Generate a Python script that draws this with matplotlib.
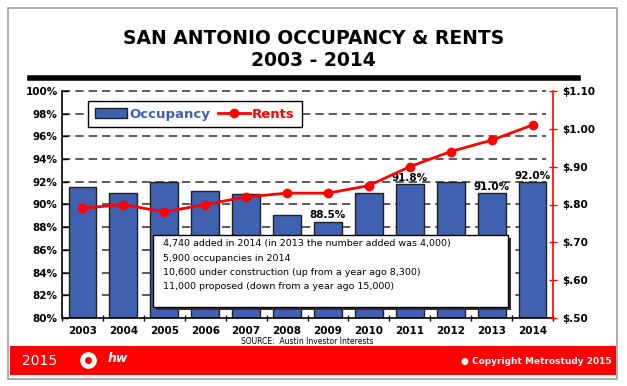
import numpy as np
import matplotlib
matplotlib.use("Agg")
import matplotlib.pyplot as plt
from matplotlib.patches import Rectangle
from matplotlib.lines import Line2D

# data
years = ["2003", "2004", "2005", "2006", "2007", "2008",
         "2009", "2010", "2011", "2012", "2013", "2014"]
occupancy = [91.5, 91.0, 92.0, 91.2, 90.9, 89.1, 88.5, 91.0, 91.8, 92.0, 91.0, 92.0]
rents = [0.79, 0.80, 0.78, 0.80, 0.82, 0.83, 0.83, 0.85, 0.90, 0.94, 0.97, 1.01]
labelled = {"2009": "88.5%", "2011": "91.8%", "2013": "91.0%", "2014": "92.0%"}
occ_ticks = list(range(80, 101, 2))
rent_ticks = [0.50, 0.60, 0.70, 0.80, 0.90, 1.00, 1.10]
rent_labels = ["$.50", "$.60", "$.70", "$.80", "$.90", "$1.00", "$1.10"]
notes = ["4,740 added in 2014 (in 2013 the number added was 4,000)",
         "5,900 occupancies in 2014",
         "10,600 under construction (up from a year ago 8,300)",
         "11,000 proposed (down from a year ago 15,000)"]

BLUE = "#4060B0"
RED = "#FF0000"

fig = plt.figure(figsize=(6.27, 3.86), dpi=100)

# outer frame
fig.patches.append(Rectangle((8 / 627, 1 - 379 / 386), 609 / 627, 371 / 386,
                             transform=fig.transFigure, fill=False,
                             edgecolor="#A0A0A0", lw=1.2))

# titles and rule
fig.text(0.5, 1 - 39 / 386, "SAN ANTONIO OCCUPANCY & RENTS", ha="center", va="center",
         fontsize=13.5, fontweight="bold")
fig.text(0.5, 1 - 60 / 386, "2003 - 2014", ha="center", va="center",
         fontsize=13.5, fontweight="bold")
fig.lines.append(Line2D([30 / 627, 578 / 627], [1 - 78 / 386, 1 - 78 / 386],
                        transform=fig.transFigure, color="black", lw=4))

ax = fig.add_axes([62 / 627, 1 - 318 / 386, 491 / 627, 227 / 386])
x = np.arange(len(years))

for t in occ_ticks[1:]:
    ax.axhline(t, xmax=0.985, color="#404040", lw=1.2, ls=(0, (5, 3)), zorder=0,
               clip_on=False)

ax.bar(x, occupancy, width=0.68, color=BLUE, edgecolor="#202020", lw=1, zorder=2)
for i, y in enumerate(years):
    if y in labelled:
        ax.text(i, occupancy[i] + 0.1, labelled[y], ha="center", va="bottom",
                fontsize=7.5, fontweight="bold", zorder=5)

ax.set_xlim(-0.5, len(years) - 0.5)
ax.set_ylim(80, 100)
ax.set_yticks(occ_ticks)
ax.set_yticklabels([f"{t}%" for t in occ_ticks], fontsize=7.5, fontweight="bold")
ax.set_xticks(x)
ax.set_xticklabels(years, fontsize=7.5, fontweight="bold")
ax.tick_params(axis="x", length=0, pad=6)
ax.set_xticks(np.arange(-0.5, len(years), 1), minor=True)
ax.tick_params(axis="x", which="minor", length=5, direction="inout", width=1)
ax.tick_params(axis="y", length=4, direction="in", width=1, pad=3)
for s in ["top", "right"]:
    ax.spines[s].set_visible(False)
ax.spines["left"].set_linewidth(1.2)
ax.spines["bottom"].set_linewidth(1.2)

ax2 = ax.twinx()
ax2.plot(x, rents, color=RED, lw=2, marker="o", ms=6, zorder=6)
ax2.set_ylim(0.50, 1.10)
ax2.set_yticks(rent_ticks)
ax2.set_yticklabels(rent_labels, fontsize=7.5, fontweight="bold")
ax2.tick_params(axis="y", colors=RED, labelcolor="black", length=6,
                direction="inout", width=1)
for s in ["top", "left", "bottom"]:
    ax2.spines[s].set_visible(False)
ax2.spines["right"].set_color(RED)
ax2.spines["right"].set_linewidth(1.2)

# legend
handles = [Rectangle((0, 0), 1, 1, facecolor=BLUE, edgecolor="#202020"),
           Line2D([], [], color=RED, lw=2, marker="o", ms=6)]
leg = ax2.legend(handles, ["Occupancy", "Rents"], loc="upper left",
                 bbox_to_anchor=(0.04, 0.985), ncol=2, fancybox=False,
                 edgecolor="black", framealpha=1, fontsize=9.5,
                 labelcolor=[BLUE, RED], handlelength=2.4, columnspacing=0.6,
                 handletextpad=0.2, borderpad=0.5)
leg.get_frame().set_linewidth(1)
for t in leg.get_texts():
    t.set_fontweight("bold")
leg.set_zorder(10)

# notes box with shadow
ax2.add_patch(Rectangle((0.192, 0.035), 0.723, 0.318, transform=ax2.transAxes,
                        facecolor="#303030", edgecolor="none", zorder=8))
ax2.add_patch(Rectangle((0.185, 0.048), 0.723, 0.318, transform=ax2.transAxes,
                        facecolor="white", edgecolor="black", lw=1, zorder=9))
for k, line in enumerate(notes):
    ax2.text(0.205, 0.326 - k * 0.062, line, transform=ax2.transAxes,
             fontsize=6.8, va="center", ha="left", zorder=10)

fig.text(307 / 627, 1 - 341 / 386, "SOURCE:  Austin Investor Interests", ha="center",
         va="center", fontsize=5.5)

# footer band
fig.patches.append(Rectangle((10 / 627, 1 - 375 / 386), 606 / 627, 29 / 386,
                             transform=fig.transFigure, facecolor=RED,
                             edgecolor="none"))
fig.text(22 / 627, 1 - 361 / 386, "2015", color="white", fontsize=10,
         va="center", ha="left")
fig.lines.append(Line2D([88 / 627], [1 - 360 / 386], transform=fig.transFigure,
                        marker="o", ms=11, mfc="white", mec="white", ls="none"))
fig.lines.append(Line2D([88 / 627], [1 - 360 / 386], transform=fig.transFigure,
                        marker="o", ms=4, mfc=RED, mec=RED, ls="none"))
fig.text(108 / 627, 1 - 359 / 386, "hw", color="white", fontsize=9,
         fontweight="bold", fontstyle="italic", va="center", ha="left")
fig.text(612 / 627, 1 - 361 / 386, "\u25cf Copyright Metrostudy 2015", color="white",
         fontsize=6.5, fontweight="bold", va="center", ha="right")

fig.savefig("out.png", dpi=100)
